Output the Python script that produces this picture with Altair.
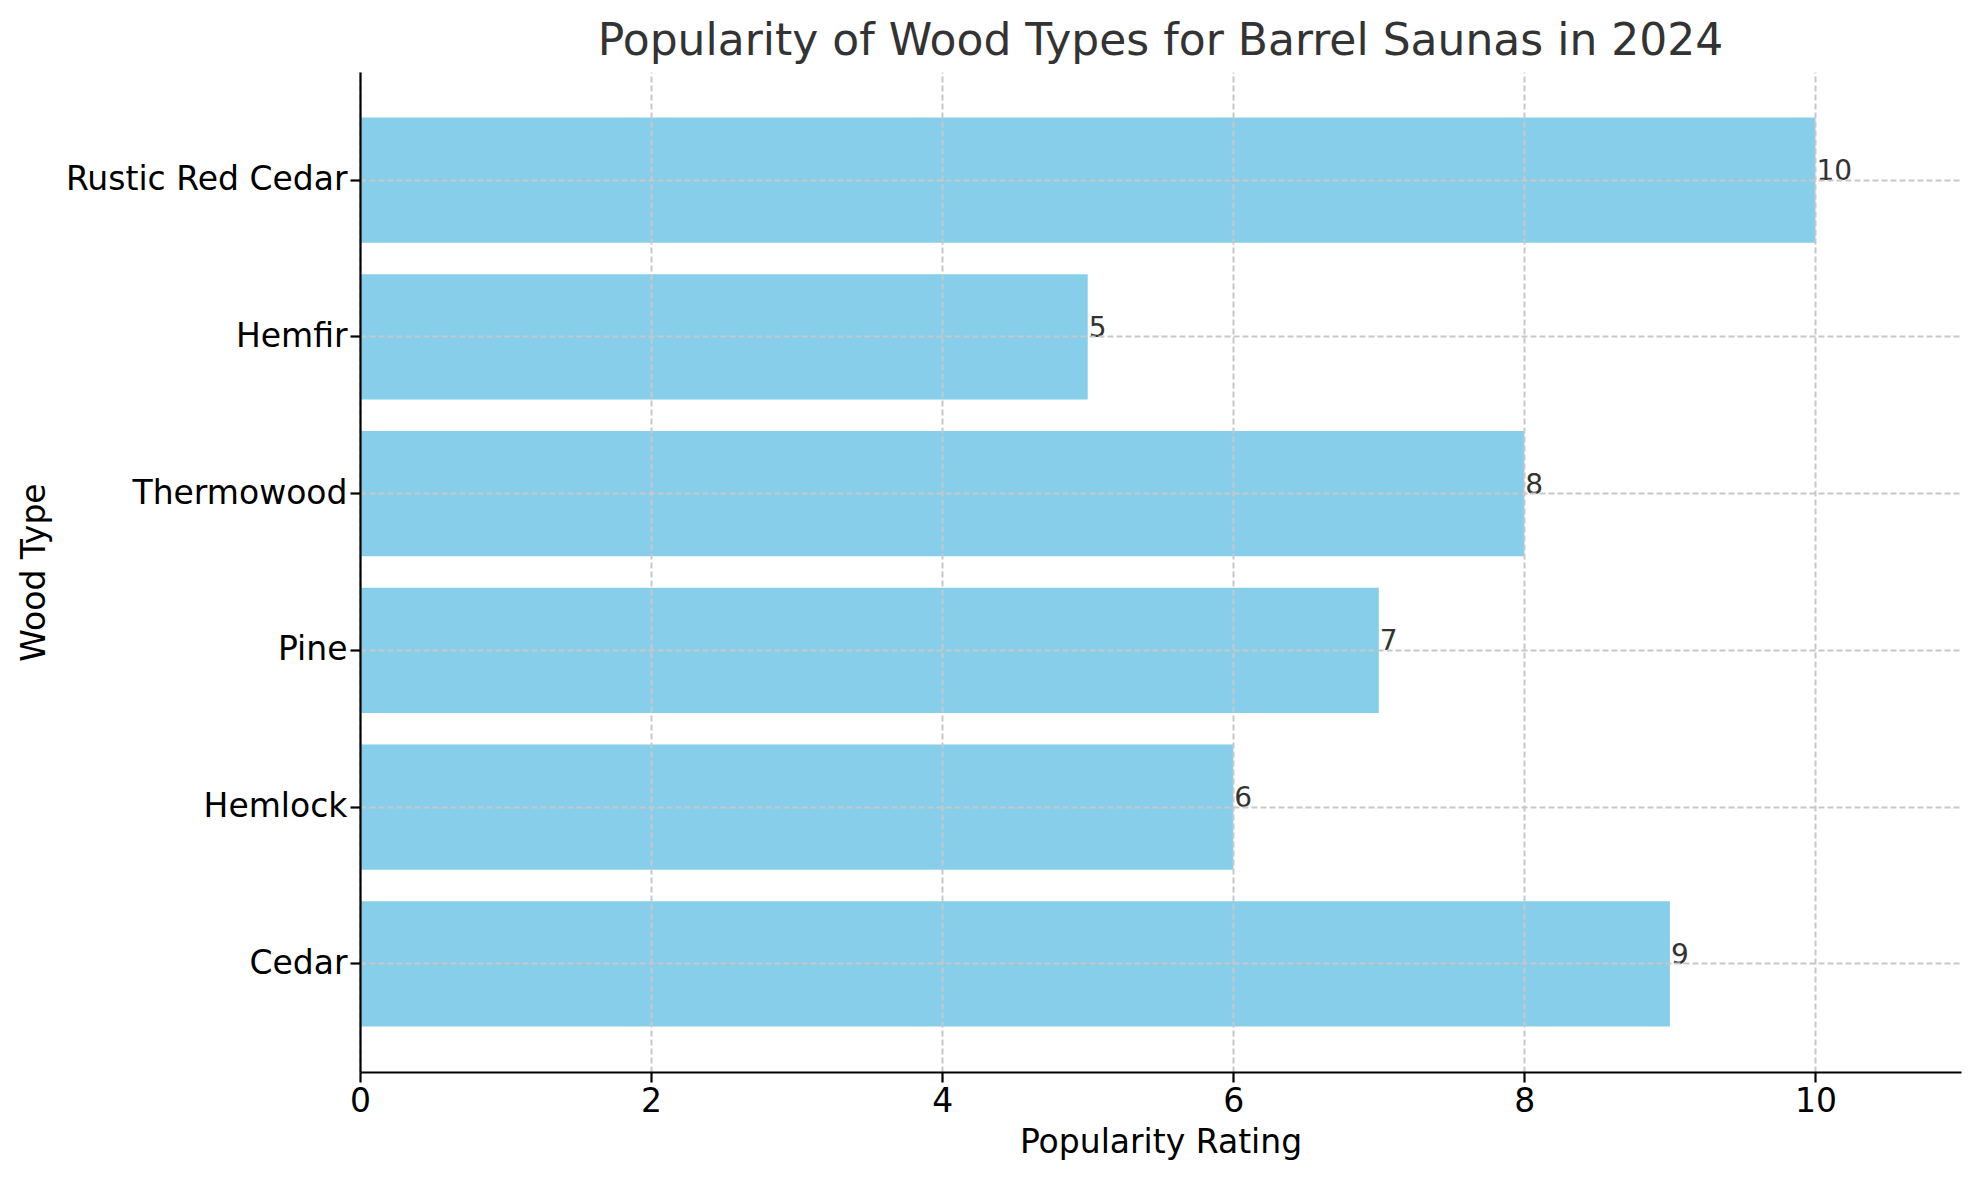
import altair as alt
import pandas as pd

wood_types = ["Cedar", "Hemlock", "Pine", "Thermowood", "Hemfir", "Rustic Red Cedar"]
ratings = [9, 6, 7, 8, 5, 10]
x_ticks = [0, 2, 4, 6, 8, 10]

df = pd.DataFrame({"wood": wood_types, "rating": ratings})
order_top_to_bottom = wood_types[::-1]

W, H = 1601, 1000
FONT = "DejaVu Sans"

y_scale = alt.Scale(paddingInner=0.2, paddingOuter=0.29)
x_scale = alt.Scale(domain=[0, 11], nice=False, zero=True)

y_axis = alt.Axis(
    title="Wood Type", grid=True, labelFontSize=33, labelPadding=3, labelLimit=0,
    titleFontSize=33, titleFontWeight="normal", titleColor="black",
    titleAngle=270, titleX=-326, titleY=500, titleAlign="center", titleBaseline="middle",
    labelColor="black", zindex=1,
)
x_axis = alt.Axis(
    title="Popularity Rating", values=x_ticks, grid=True, labelFontSize=33, labelPadding=3,
    labelFlush=False,
    titleFontSize=33, titleFontWeight="normal", titleColor="black",
    titleY=70, titleBaseline="middle", labelColor="black", zindex=1, format="d",
)

bars = alt.Chart(df).mark_bar(color="#87CEEB").encode(
    x=alt.X("rating:Q", scale=x_scale, axis=x_axis),
    y=alt.Y("wood:N", sort=order_top_to_bottom, scale=y_scale, axis=y_axis),
)

labels = alt.Chart(df).mark_text(
    align="left", baseline="alphabetic", dx=1, fontSize=28, color="#333333", font=FONT
).encode(
    x=alt.X("rating:Q", scale=x_scale),
    y=alt.Y("wood:N", sort=order_top_to_bottom, scale=y_scale),
    text=alt.Text("rating:Q"),
)

chart = alt.layer(bars, labels).properties(
    width=W, height=H,
    title=alt.TitleParams(
        text="Popularity of Wood Types for Barrel Saunas in 2024",
        fontSize=44, color="#333333", font=FONT, fontWeight="normal",
        anchor="middle", offset=8,
    ),
    autosize=alt.AutoSizeParams(type="none"),
    padding={"left": 352, "top": 64, "right": 11, "bottom": 98},
).configure_view(stroke=None).configure_axis(
    labelFont=FONT, titleFont=FONT,
    domainColor="black", domainWidth=2.2,
    tickColor="black", tickWidth=2.2, tickSize=10,
    gridColor="#c8c8c8", gridDash=[6, 3], gridWidth=2,
)

chart.save("out.html", embed_options={"renderer": "svg", "actions": False})
